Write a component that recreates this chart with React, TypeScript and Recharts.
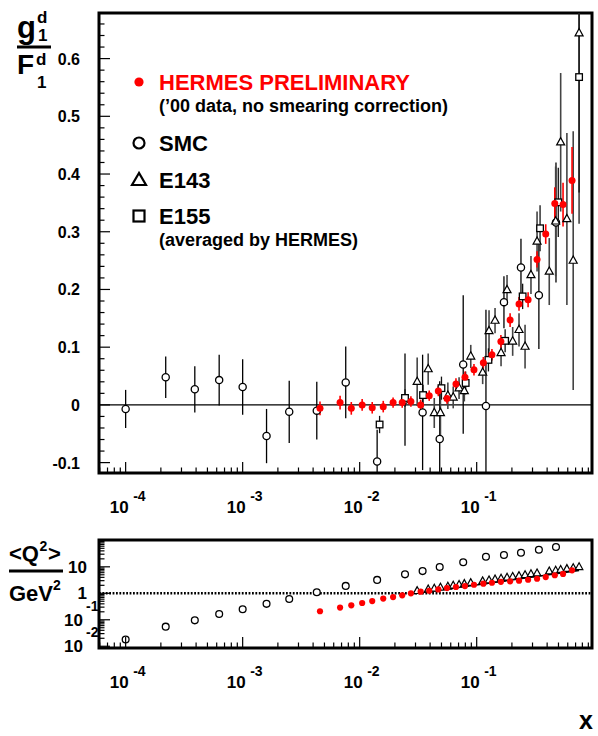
import React from 'react'
import {
  ComposedChart,
  Scatter,
  Line,
  XAxis,
  YAxis,
  ErrorBar,
  ReferenceLine,
  ReferenceArea,
} from 'recharts'

const FONT = '"Liberation Sans", Arial, Helvetica, sans-serif'
const RED = '#ff0000'

// HERMES preliminary ('00 data)
const HERMES_X = [
  0.00458, 0.0068, 0.00848, 0.0105, 0.0128, 0.0159, 0.0193, 0.0231, 0.0274, 0.0332,
  0.0393, 0.047, 0.0557, 0.0665, 0.0794, 0.0948, 0.114, 0.135, 0.161, 0.193,
  0.23, 0.275, 0.328, 0.389, 0.465, 0.547, 0.653,
]
const HERMES_G1 = [
  -0.006, 0.004, -0.006, 0.0, -0.005, -0.003, 0.004, 0.004, 0.006, 0.0,
  0.016, 0.024, 0.011, 0.036, 0.048, 0.061, 0.073, 0.087, 0.11, 0.147,
  0.175, 0.182, 0.252, 0.296, 0.349, 0.347, 0.389,
]
const HERMES_ERR = [
  0.012, 0.012, 0.011, 0.01, 0.01, 0.01, 0.009, 0.009, 0.009, 0.009,
  0.009, 0.009, 0.009, 0.01, 0.01, 0.01, 0.01, 0.01, 0.011, 0.012,
  0.012, 0.013, 0.014, 0.017, 0.028, 0.038, 0.058,
]
const HERMES_Q2 = [
  0.21, 0.29, 0.35, 0.43, 0.51, 0.63, 0.72, 0.84, 1.0, 1.15,
  1.25, 1.4, 1.58, 1.73, 1.88, 2.1, 2.3, 2.5, 2.7, 2.83,
  3.0, 3.25, 3.55, 4.1, 4.8, 5.4, 7.4,
]

// SMC
const SMC_X = [
  1.0e-4, 2.2e-4, 3.9e-4, 6.3e-4, 1.0e-3, 1.6e-3, 2.5e-3, 4.3e-3, 7.6e-3, 0.0141,
  0.0244, 0.0345, 0.0483, 0.0767, 0.12, 0.171, 0.239, 0.34, 0.476,
]
const SMC_G1 = [
  -0.007, 0.048, 0.027, 0.043, 0.031, -0.054, -0.012, -0.01, 0.039, -0.098,
  0.009, -0.013, -0.059, 0.07, -0.002, 0.178, 0.238, 0.19, 0.316,
]
const SMC_ERR = [
  0.033, 0.036, 0.04, 0.044, 0.048, 0.047, 0.054, 0.05, 0.062, 0.055,
  0.08, 0.1, 0.1, 0.12, 0.167, 0.045, 0.05, 0.093, 0.104,
]
const SMC_Q2 = [
  0.018, 0.055, 0.095, 0.166, 0.25, 0.4, 0.61, 1.09, 1.9, 3.2,
  5.2, 6.9, 9.8, 14.8, 24, 28, 34, 44, 56,
]

// E143
const E143_X = [
  0.031, 0.0385, 0.0434, 0.049, 0.0567, 0.063, 0.0707, 0.0784, 0.089, 0.1125,
  0.1275, 0.1435, 0.1615, 0.1817, 0.203, 0.23, 0.259, 0.291, 0.328, 0.417,
  0.473, 0.522, 0.59, 0.668, 0.75,
]
const E143_G1 = [
  0.04, 0.062, -0.014, -0.014, 0.016, 0.013, 0.029, 0.024, 0.084, 0.056,
  0.128, 0.146, 0.09, 0.199, 0.11, 0.13, 0.101, 0.225, 0.283, 0.231,
  0.318, 0.455, 0.322, 0.25, 0.644,
]
const E143_ERR = [
  0.042, 0.027, 0.026, 0.04, 0.023, 0.019, 0.019, 0.018, 0.02, 0.02,
  0.036, 0.022, 0.023, 0.026, 0.025, 0.029, 0.038, 0.033, 0.052, 0.058,
  0.095, 0.12, 0.149, 0.224, 0.33,
]
const E143_Q2 = [
  1.22, 1.4, 1.5, 1.65, 1.78, 1.95, 2.1, 2.25, 2.45, 2.85,
  3.1, 3.35, 3.6, 3.9, 4.2, 4.5, 4.9, 5.3, 5.7, 6.7,
  7.2, 7.7, 8.3, 9.0, 9.8,
]

// E155 (averaged by HERMES)
const E155_X = [0.0148, 0.0244, 0.0348, 0.05, 0.0805, 0.126, 0.175, 0.247, 0.348, 0.498, 0.75]
const E155_G1 = [-0.034, 0.012, 0.017, 0.029, 0.038, 0.078, 0.111, 0.188, 0.306, 0.351, 0.568]
const E155_ERR = [0.015, 0.015, 0.018, 0.02, 0.02, 0.02, 0.02, 0.022, 0.04, 0.06, 0.2]
const E155_Q2_X = [0.029, 0.75]
const E155_Q2 = [0.95, 7.3]

// axes
const X_DOMAIN = [5.92e-5, 0.967]
const G1_DOMAIN = [-0.118, 0.679]
const Q2_DOMAIN = [0.00859, 103]
const MULTS = [1, 2, 3, 4, 5, 6, 7, 8, 9]
const X_MAJOR = [1e-4, 1e-3, 1e-2, 1e-1]
const X_MAJOR_EXP = ['-4', '-3', '-2', '-1']
const X_TICKS = [1e-5, 1e-4, 1e-3, 1e-2, 1e-1]
  .flatMap((d) => MULTS.map((m) => +(m * d).toPrecision(3)))
  .filter((v) => v >= X_DOMAIN[0] && v <= X_DOMAIN[1])
const G1_TICKS = Array.from({ length: 39 }, (_, i) => Math.round((-0.1 + i * 0.02) * 100) / 100)
const Q2_TICKS = [1e-3, 1e-2, 1e-1, 1, 10, 100]
  .flatMap((d) => MULTS.map((m) => +(m * d).toPrecision(3)))
  .filter((v) => v >= Q2_DOMAIN[0] && v <= Q2_DOMAIN[1])
const Q2_MAJOR = [0.01, 0.1, 1, 10, 100]
const Q2_LABELS: Record<string, [string, string]> = {
  '10': ['10', ''],
  '1': ['1', ''],
  '0.1': ['10', '-1'],
  '0.01': ['10', '-2'],
}

// error bars stop at the frame, like the original: [down, up]
const rows = (xs: number[], ys: number[], errs?: number[]) =>
  xs.map((x, i) => {
    const y = ys[i]
    const e = errs ? errs[i] : 0
    return { x, y, err: [Math.min(e, y - G1_DOMAIN[0]), Math.min(e, G1_DOMAIN[1] - y)] }
  })

const hermes = rows(HERMES_X, HERMES_G1, HERMES_ERR)
const smc = rows(SMC_X, SMC_G1, SMC_ERR)
const e143 = rows(E143_X, E143_G1, E143_ERR)
const e155 = rows(E155_X, E155_G1, E155_ERR)
const hermesQ2 = HERMES_X.map((x, i) => ({ x, y: HERMES_Q2[i] }))
const smcQ2 = SMC_X.map((x, i) => ({ x, y: SMC_Q2[i] }))
const e143Q2 = E143_X.map((x, i) => ({ x, y: E143_Q2[i] }))
const e155Q2 = E155_Q2_X.map((x, i) => ({ x, y: E155_Q2[i] }))

// markers
const OpenCircle = (r: number) => (p: any) =>
  <circle cx={p.cx} cy={p.cy} r={r} fill="#fff" stroke="#000" strokeWidth={1.3} />
const RedDot = (r: number) => (p: any) => <circle cx={p.cx} cy={p.cy} r={r} fill={RED} />
const OpenTriangle = (w: number) => (p: any) => (
  <polygon
    points={`${p.cx},${p.cy - w * 0.58} ${p.cx - w / 2},${p.cy + w * 0.33} ${p.cx + w / 2},${p.cy + w * 0.33}`}
    fill="#fff"
    stroke="#000"
    strokeWidth={1.2}
  />
)
const OpenSquare = (s: number) => (p: any) =>
  <rect x={p.cx - s / 2} y={p.cy - s / 2} width={s} height={s} fill="#fff" stroke="#000" strokeWidth={1.3} />

// ticks
const BottomTick = (props: any) => {
  const { x, y, payload } = props
  const k = X_MAJOR.indexOf(payload.value)
  return (
    <g>
      <line x1={x} x2={x} y1={y} y2={y - (k >= 0 ? 11 : 5.5)} stroke="#000" strokeWidth={1.2} />
      {k >= 0 && (
        <g fontFamily={FONT} fontWeight="bold" fill="#000">
          <text x={x + 3} y={y + 40} fontSize={17} textAnchor="end">10</text>
          <text x={x + 7.5} y={y + 28} fontSize={14}>{X_MAJOR_EXP[k]}</text>
        </g>
      )}
    </g>
  )
}

const G1Tick = (props: any) => {
  const { x, y, payload } = props
  const v = payload.value
  const major = Math.round(v * 100) % 10 === 0
  return (
    <g>
      <line x1={x} x2={x + (major ? 11 : 5.5)} y1={y} y2={y} stroke="#000" strokeWidth={1.2} />
      {major && (
        <text x={x - 19} y={y + 6} textAnchor="end" fontSize={16} fontFamily={FONT} fontWeight="bold" fill="#000">
          {v === 0 ? '0' : v.toFixed(1)}
        </text>
      )}
    </g>
  )
}

const Q2Tick = (props: any) => {
  const { x, y, payload } = props
  const v = payload.value
  const major = Q2_MAJOR.includes(v)
  const lab = Q2_LABELS[String(v)]
  return (
    <g>
      <line x1={x} x2={x + (major ? 11 : 5.5)} y1={y} y2={y} stroke="#000" strokeWidth={1.2} />
      {lab && (
        <g fontFamily={FONT} fontWeight="bold" fill="#000">
          <text x={x - (lab[1] ? 16 : 12)} y={y + 6} fontSize={17} textAnchor="end">{lab[0]}</text>
          {lab[1] && <text x={x - 13} y={y - 9} fontSize={14}>{lab[1]}</text>}
        </g>
      )}
    </g>
  )
}

const Overlay = () => (
  <svg
    width={598}
    height={736}
    style={{ position: 'absolute', left: 0, top: 0, pointerEvents: 'none' }}
    fontFamily={FONT}
    fontWeight="bold"
  >
    {/* y title, top panel */}
    <text x={17} y={38} fontSize={31}>g</text>
    <text x={37} y={23} fontSize={17}>d</text>
    <text x={38} y={41} fontSize={17}>1</text>
    <line x1={17} x2={51} y1={47} y2={47} stroke="#000" strokeWidth={3} />
    <text x={17} y={74} fontSize={28}>F</text>
    <text x={36} y={65} fontSize={17}>d</text>
    <text x={37} y={88} fontSize={17}>1</text>

    {/* legend */}
    <circle cx={139} cy={82} r={4.6} fill={RED} />
    <text x={159} y={90} fontSize={22} fill={RED}>HERMES PRELIMINARY</text>
    <text x={159} y={112} fontSize={18}>(’00 data, no smearing correction)</text>
    <circle cx={139} cy={143} r={5.5} fill="#fff" stroke="#000" strokeWidth={2.2} />
    <text x={159} y={151} fontSize={22}>SMC</text>
    <polygon points="139,173 132,185 146,185" fill="#fff" stroke="#000" strokeWidth={2.2} />
    <text x={159} y={188} fontSize={22}>E143</text>
    <rect x={133.5} y={210.5} width={11} height={11} fill="#fff" stroke="#000" strokeWidth={2.2} />
    <text x={159} y={224} fontSize={22}>E155</text>
    <text x={159} y={246} fontSize={18}>(averaged by HERMES)</text>

    {/* y title, bottom panel */}
    <text x={9} y={561} fontSize={22}>{'<Q'}</text>
    <text x={39.5} y={551} fontSize={14}>2</text>
    <text x={48} y={561} fontSize={22}>{'>'}</text>
    <line x1={9} x2={63} y1={571} y2={571} stroke="#000" strokeWidth={3} />
    <text x={9} y={601} fontSize={22}>GeV</text>
    <text x={53} y={590} fontSize={14}>2</text>

    {/* x title */}
    <text x={593} y={729} fontSize={25} textAnchor="end">x</text>
  </svg>
)

export default function App() {
  return (
    <div style={{ position: 'absolute', left: 0, top: 0, width: 598, height: 736, background: '#fff' }}>
      <div style={{ position: 'absolute', left: 0, top: 0 }}>
        <ComposedChart width={598} height={530} margin={{ top: 13, right: 6, bottom: 17, left: 0 }}>
          <XAxis
            dataKey="x"
            type="number"
            scale="log"
            domain={X_DOMAIN}
            allowDataOverflow
            ticks={X_TICKS}
            interval={0}
            tick={<BottomTick />}
            tickLine={false}
            axisLine={false}
            tickSize={0}
            tickMargin={0}
            height={40}
          />
          <YAxis
            dataKey="y"
            type="number"
            domain={G1_DOMAIN}
            allowDataOverflow
            ticks={G1_TICKS}
            interval={0}
            tick={<G1Tick />}
            tickLine={false}
            axisLine={false}
            tickSize={0}
            tickMargin={0}
            width={99}
          />
          <ReferenceLine y={0} stroke="#000" strokeWidth={1.3} />
          <Scatter data={smc} dataKey="y" shape={OpenCircle(3.6)} isAnimationActive={false}>
            <ErrorBar dataKey="err" direction="y" width={0} stroke="#000" strokeWidth={1.3} isAnimationActive={false} />
          </Scatter>
          <Scatter data={e143} dataKey="y" shape={OpenTriangle(8)} isAnimationActive={false}>
            <ErrorBar dataKey="err" direction="y" width={0} stroke="#444" strokeWidth={1.6} isAnimationActive={false} />
          </Scatter>
          <Scatter data={e155} dataKey="y" shape={OpenSquare(6.6)} isAnimationActive={false}>
            <ErrorBar dataKey="err" direction="y" width={0} stroke="#111" strokeWidth={1.3} isAnimationActive={false} />
          </Scatter>
          <Scatter data={hermes} dataKey="y" shape={RedDot(3.5)} isAnimationActive={false}>
            <ErrorBar dataKey="err" direction="y" width={0} stroke={RED} strokeWidth={1.6} isAnimationActive={false} />
          </Scatter>
          <ReferenceArea
            x1={X_DOMAIN[0]}
            x2={X_DOMAIN[1]}
            y1={G1_DOMAIN[0]}
            y2={G1_DOMAIN[1]}
            fill="none"
            stroke="#000"
            strokeWidth={3}
            ifOverflow="visible"
          />
        </ComposedChart>
      </div>
      <div style={{ position: 'absolute', left: 0, top: 530 }}>
        <ComposedChart width={598} height={206} margin={{ top: 10, right: 6, bottom: 48, left: 0 }}>
          <XAxis
            dataKey="x"
            type="number"
            scale="log"
            domain={X_DOMAIN}
            allowDataOverflow
            ticks={X_TICKS}
            interval={0}
            tick={<BottomTick />}
            tickLine={false}
            axisLine={false}
            tickSize={0}
            tickMargin={0}
            height={40}
          />
          <YAxis
            dataKey="y"
            type="number"
            scale="log"
            domain={Q2_DOMAIN}
            allowDataOverflow
            ticks={Q2_TICKS}
            interval={0}
            tick={<Q2Tick />}
            tickLine={false}
            axisLine={false}
            tickSize={0}
            tickMargin={0}
            width={99}
          />
          <ReferenceLine y={1} stroke="#000" strokeWidth={2.6} strokeDasharray="1.8 1.6" />
          <Scatter data={smcQ2} dataKey="y" shape={OpenCircle(3.4)} isAnimationActive={false} />
          <Line
            data={e155Q2}
            dataKey="y"
            type="linear"
            stroke="#000"
            strokeWidth={1.4}
            dot={false}
            isAnimationActive={false}
          />
          <Scatter data={e143Q2} dataKey="y" shape={OpenTriangle(7.5)} isAnimationActive={false} />
          <Scatter data={hermesQ2} dataKey="y" shape={RedDot(3.1)} isAnimationActive={false} />
          <ReferenceArea
            x1={X_DOMAIN[0]}
            x2={X_DOMAIN[1]}
            y1={Q2_DOMAIN[0]}
            y2={Q2_DOMAIN[1]}
            fill="none"
            stroke="#000"
            strokeWidth={3}
            ifOverflow="visible"
          />
        </ComposedChart>
      </div>
      <Overlay />
    </div>
  )
}
